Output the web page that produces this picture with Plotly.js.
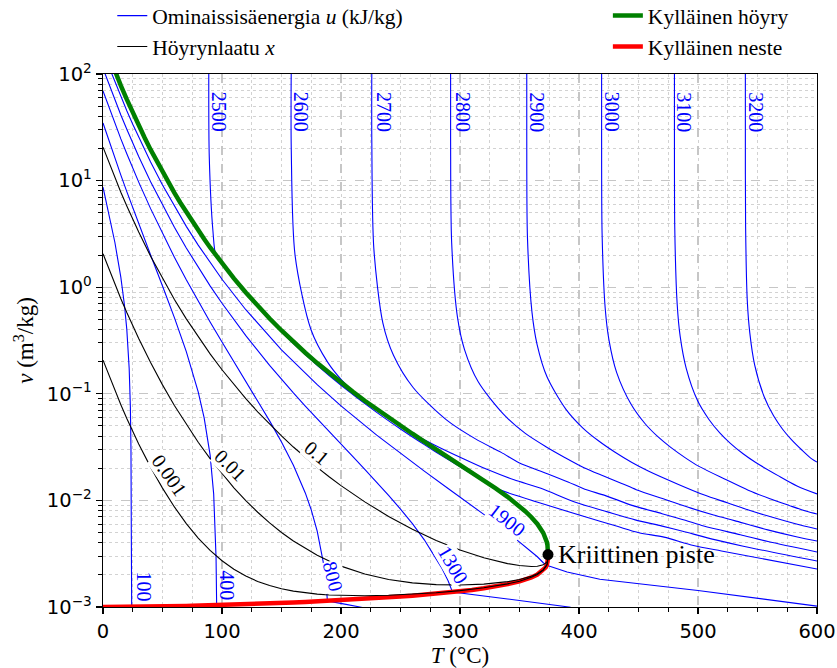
<!DOCTYPE html>
<html><head><meta charset="utf-8">
<script src="https://cdn.plot.ly/plotly-3.0.1.min.js"></script>
<style>body{margin:0;padding:0;background:#fff}</style>
</head><body><div id="chart" style="width:837px;height:668px"></div>
<script>
// ---- saturation curve (T in °C, v in m3/kg) ----
const T_sat = [0.01,5,10,15,20,25,30,35,40,45,50,55,60,65,70,75,80,85,90,95,100,110,120,130,140,150,160,170,180,190,200,210,220,230,240,250,260,270,280,290,300,310,320,330,340,350,355,360,365,370,372,373,373.5,373.8,373.9,373.946];
const v_vapour = [205.99,147.03,106.32,77.885,57.762,43.340,32.879,25.205,19.515,15.251,12.026,9.5639,7.6670,6.1935,5.0396,4.1291,3.4053,2.8261,2.3593,1.9808,1.6720,1.2094,0.89133,0.66808,0.50850,0.39248,0.30680,0.24283,0.19405,0.15654,0.12721,0.10441,0.08609,0.07150,0.05970,0.05009,0.04219,0.03565,0.03017,0.02556,0.02166,0.01834,0.01548,0.01298,0.01079,0.008806,0.00788,0.006950,0.006009,0.004954,0.00441,0.004055,0.0038,0.00356,0.0034,0.003106];
const v_liquid = [0.001000,0.001000,0.001000,0.001001,0.001002,0.001003,0.001004,0.001006,0.001008,0.001010,0.001012,0.001015,0.001017,0.001020,0.001023,0.001026,0.001029,0.001032,0.001036,0.001040,0.001043,0.001052,0.001060,0.001070,0.001080,0.001091,0.001102,0.001114,0.001127,0.001141,0.001157,0.001173,0.001190,0.001209,0.001229,0.001252,0.001276,0.001303,0.001332,0.001366,0.001404,0.001447,0.001499,0.001561,0.001638,0.001740,0.001809,0.001895,0.002016,0.002213,0.002353,0.002477,0.00259,0.00273,0.002836,0.003106];
const critical = {T: 373.946, v: 0.003106};

// ---- quality lines ----
const T_q = [0.01,5,10,15,20,25,30,40,50,60,70,80,90,100,110,120,130,140,150,160,170,180,190,200,220,240,260,280,300,320,340,350,360,365,370,372,373,373.5,373.8,373.946];
const v_x0001 = [0.20699,0.14803,0.10732,0.078885,0.058763,0.044342,0.033882,0.020522,0.013037,0.008683,0.006061,0.004434,0.003394,0.002714,0.002260,0.001950,0.001737,0.001588,0.001482,0.001408,0.001356,0.001320,0.001297,0.001283,0.001275,0.001288,0.001317,0.001361,0.001424,0.001513,0.001647,0.001747,0.001900,0.002020,0.002216,0.002355,0.002478,0.002591,0.002731,0.003106];
const v_x001 = [2.0609,1.4713,1.0642,0.77984,0.57861,0.43439,0.32978,0.19615,0.12126,0.077677,0.051409,0.035072,0.024619,0.017753,0.013135,0.009963,0.007740,0.006154,0.005005,0.004159,0.003531,0.003056,0.002695,0.002418,0.002039,0.001814,0.001685,0.001620,0.001607,0.001639,0.001729,0.001811,0.001945,0.002056,0.002240,0.002374,0.002493,0.002602,0.002738,0.003106];
const v_x01 = [20.600,14.704,10.633,7.7894,5.7771,4.3349,3.2888,1.9524,1.2035,0.76761,0.50488,0.34146,0.23686,0.16814,0.12189,0.090088,0.067771,0.051822,0.040230,0.031672,0.025286,0.020419,0.016681,0.013762,0.009680,0.007076,0.005367,0.004216,0.003430,0.002897,0.002553,0.002447,0.002401,0.002415,0.002487,0.002559,0.002635,0.002711,0.002813,0.003106];
const qualityLevels = ['0.001','0.01','0.1'];

// ---- internal energy isolines (kJ/kg) ----
const T_u100 = [0.01,5,10,15,18,20,22,23,23.5,23.8,23.85,24.1];
const v_u100 = [8.673,4.919,2.6269,1.2372,0.685,0.4019,0.1728,0.0755,0.0307,0.00482,0.001003,0.000995];
const T_u400 = [0.01,5,10,15,20,25,30,40,50,60,70,80,85,90,93,95,95.5,96.5];
const v_u400 = [34.69,23.60,16.22,11.254,7.875,5.552,3.938,2.0057,1.0267,0.5185,0.2487,0.1042,0.0594,0.0267,0.01152,0.00292,0.00104,0.000995];
const T_u800 = [0.01,5,10,15,20,25,30,40,50,60,70,80,90,100,110,120,130,140,150,160,170,175,180,185,188,188.6,202,216,218];
const v_u800 = [69.39,48.51,34.34,24.61,17.84,13.075,9.680,5.457,3.181,1.9087,1.1742,0.7380,0.4723,0.3061,0.2001,0.1314,0.08603,0.05574,0.03527,0.02132,0.01175,0.00815,0.00515,0.002662,0.001377,0.00114,0.00107,0.001,0.00099];
const T_u1300 = [0.01,5,10,15,20,25,30,40,50,60,70,80,90,100,120,140,150,160,170,180,190,200,210,220,230,240,250,260,270,280,285,290,293.7,340,390,393];
const v_u1300 = [112.8,79.65,56.99,41.31,30.30,22.48,16.86,9.771,5.873,3.648,2.333,1.5315,1.0293,0.70639,0.3511,0.1851,0.1368,0.1021,0.07681,0.05811,0.04416,0.03366,0.02572,0.01955,0.01483,0.01116,0.00829,0.00605,0.00427,0.00287,0.00229,0.00176,0.00138,0.00119,0.001,0.000995];
const T_u1900 = [5,10,15,20,25,30,40,50,60,70,80,90,100,120,150,180,200,230,250,270,290,300,320,340,350,360,365,370,372,372.9,390,417.5,500,600];
const v_u1900 = [117.0,84.18,61.34,45.25,33.76,25.47,14.95,9.104,5.734,3.7222,2.4828,1.6976,1.1872,0.6147,0.2586,0.1217,0.07703,0.04093,0.02755,0.01882,0.01294,0.01075,0.00739,0.00502,0.00409,0.00331,0.00296,0.00260,0.00249,0.00246,0.00213,0.00182,0.00143,0.00102];
const T_u2500 = [88.9,89.3,92.4,94.9,100,120,150,180,200,230,250,270,290,300,310,320,329.7,347.5,410,432.1,450.4,471.4,496.2,519.7,600];
const v_u2500 = [120,16.70,3.346,1.98,1.667,0.8787,0.3805,0.1852,0.1204,0.0670,0.04681,0.03336,0.02412,0.02063,0.01768,0.01515,0.01305,0.01111,0.00676,0.00571,0.00498,0.00452,0.00378,0.00335,0.00227];
const T_u2600 = [158.2,158.2,161.4,174.8,188.6,201,212.7,230,245,257,278.9,302.8,322.6,345.4,368,397,423.9,447.2,469.9,487.1,514.9,538.1,600];
const v_u2600 = [120,19.89,1.990,0.3987,0.1994,0.1329,0.0997,0.0714,0.0547,0.0443,0.03296,0.02459,0.01955,0.01559,0.01299,0.0096,0.007805,0.00657,0.00574,0.00513,0.00426,0.00372,0.00270];
const T_u2700 = [225.9,225.9,227.6,235.2,244.1,260.6,288.6,313,334.6,350,372.8,390.8,404.9,421.7,445.3,469.8,489.3,504.8,535.6,558.8,600];
const v_u2700 = [120,23.02,2.3015,0.4598,0.2296,0.1145,0.05692,0.03776,0.02821,0.02244,0.01792,0.0149,0.01273,0.01115,0.00893,0.00751,0.00651,0.00575,0.00476,0.00411,0.00328];
const T_u2800 = [292.1,292.1,293,297.9,303.8,315.3,336.5,354.6,372.2,387.6,404.2,421.2,435.9,448.1,473.7,494.1,513.1,530.6,558.6,583.5,600];
const v_u2800 = [120,26.08,2.6066,0.5206,0.2599,0.12953,0.06441,0.04273,0.03191,0.02545,0.02028,0.01686,0.01443,0.01261,0.01010,0.00846,0.0073,0.00646,0.00529,0.00454,0.00416];
const T_u2900 = [356.1,356.1,356.7,360.5,364.8,373.1,388.9,403.3,417.2,430,444.5,458.2,483.6,504.8,525.2,542.4,558.2,586.7,600];
const v_u2900 = [120,29.03,2.9019,0.58,0.28963,0.14444,0.07188,0.04773,0.03566,0.02845,0.02268,0.01886,0.01411,0.01128,0.00944,0.00813,0.00717,0.00584,0.00539];
const T_u3000 = [419,419,419.4,422,425.2,431.6,443.9,455.4,466.5,477.1,489.4,500.8,523.8,542.2,559.9,576.5,591.2,600];
const v_u3000 = [120,31.94,3.1925,0.6379,0.3186,0.15895,0.07923,0.05266,0.03937,0.03142,0.02507,0.02086,0.0156,0.01246,0.01042,0.00897,0.0079,0.00745];
const T_u3100 = [480.2,480.2,480.5,482.5,485,490.1,499.6,509.2,518.3,527.2,537.9,548.2,567.3,583.2,600];
const v_u3100 = [120,34.76,3.475,0.6946,0.347,0.17326,0.0864,0.05746,0.043,0.03433,0.0274,0.0228,0.01708,0.01366,0.0115];
const T_u3200 = [539.8,539.8,540,541.4,543.5,547.6,555.7,563.5,571.1,578.5,587.3,595.6,600];
const v_u3200 = [120,37.52,3.7505,0.7495,0.37455,0.18707,0.09336,0.06213,0.04654,0.03718,0.0297,0.0245,0.0229];
const uLevels = [100,400,800,1300,1900,2500,2600,2700,2800,2900,3000,3100,3200];

// ---- axis ticks ----
const xTickVals = [0,100,200,300,400,500,600];
const yTickVals = [0.001,0.01,0.1,1,10,100];
const yTickText = ['10<sup>−3</sup>','10<sup>−2</sup>','10<sup>−1</sup>','10<sup>0</sup>','10<sup>1</sup>','10<sup>2</sup>'];
const yMinorVals = [];
[0.001,0.01,0.1,1,10].forEach(d => { for (let k = 2; k <= 9; k++) yMinorVals.push(+(d*k).toPrecision(3)); });

const isoT = {100:T_u100,400:T_u400,800:T_u800,1300:T_u1300,1900:T_u1900,2500:T_u2500,2600:T_u2600,2700:T_u2700,2800:T_u2800,2900:T_u2900,3000:T_u3000,3100:T_u3100,3200:T_u3200};
const isoV = {100:v_u100,400:v_u400,800:v_u800,1300:v_u1300,1900:v_u1900,2500:v_u2500,2600:v_u2600,2700:v_u2700,2800:v_u2800,2900:v_u2900,3000:v_u3000,3100:v_u3100,3200:v_u3200};

const serif = 'Liberation Serif, Times New Roman, serif';
const traces = [];
uLevels.forEach((u, i) => {
  traces.push({x: isoT[u], y: isoV[u], mode: 'lines', type: 'scatter',
    line: {color: '#0000ff', width: 1.1, shape: u >= 2500 ? 'spline' : 'linear', smoothing: 0.8},
    name: 'Ominaissisäenergia <i>u</i> (kJ/kg)', legendgroup: 'u', showlegend: i === 0,
    legend: 'legend', hoverinfo: 'skip'});
});
traces.push({x: T_sat, y: v_vapour, mode: 'lines', type: 'scatter', line: {color: '#008000', width: 4.5},
  name: 'Kylläinen höyry', legend: 'legend2', hoverinfo: 'skip'});
traces.push({x: T_sat, y: v_liquid, mode: 'lines', type: 'scatter', line: {color: '#ff0000', width: 4.5},
  name: 'Kylläinen neste', legend: 'legend2', hoverinfo: 'skip'});
[v_x0001, v_x001, v_x01].forEach((arr, i) => {
  traces.push({x: T_q, y: arr, mode: 'lines', type: 'scatter', line: {color: '#000000', width: 1.1},
    name: 'Höyrynlaatu <i>x</i>', legendgroup: 'x', showlegend: i === 0, legend: 'legend', hoverinfo: 'skip'});
});
traces.push({x: [critical.T], y: [critical.v], mode: 'markers', type: 'scatter',
  marker: {color: '#000', size: 11}, showlegend: false, hoverinfo: 'skip'});

// label placement (T, log10 v, angle)
const uLabelPos = {
  2500: [97.6, 1.6435, 90], 2600: [166.5, 1.6435, 90], 2700: [236.2, 1.6435, 90], 2800: [302.5, 1.6435, 90],
  2900: [364.6, 1.6435, 90], 3000: [428.0, 1.6435, 90], 3100: [488.0, 1.6435, 90], 3200: [548.5, 1.6435, 90],
  100: [34.7, -2.810, 90], 400: [104.1, -2.794, 90], 800: [193.6, -2.716, 76],
  1300: [294.4, -2.606, 60], 1900: [339.9, -2.184, 38]
};
const qLabelPos = {'0.001': [55.7, -1.762, 55], '0.01': [106.9, -1.668, 45], '0.1': [179.7, -1.558, 40]};
const annotations = [];
uLevels.forEach(u => {
  const p = uLabelPos[u];
  annotations.push({x: p[0], y: p[1], xref: 'x', yref: 'y', text: String(u), showarrow: false,
    textangle: p[2], font: {family: serif, size: 20, color: '#0000ff'},
    bgcolor: p[2] === 90 ? 'rgba(0,0,0,0)' : '#ffffff', borderpad: 0, xanchor: 'center', yanchor: 'middle'});
});
qualityLevels.forEach(q => {
  const p = qLabelPos[q];
  annotations.push({x: p[0], y: p[1], xref: 'x', yref: 'y', text: q, showarrow: false,
    textangle: p[2], font: {family: serif, size: 20, color: '#000'}, bgcolor: '#ffffff', borderpad: 0,
    xanchor: 'center', yanchor: 'middle'});
});
annotations.push({x: 381.0, y: -2.507, xref: 'x', yref: 'y', text: 'Kriittinen piste', showarrow: false,
  xanchor: 'left', yanchor: 'middle', font: {family: serif, size: 26, color: '#000'}});

const gridMajor = '#c6c6c6', gridMinor = '#d2d2d2';
const legendFont = {family: serif, size: 21.5, color: '#000'};
const layout = {
  width: 837, height: 668, autosize: false,
  margin: {l: 103, r: 20, t: 74, b: 61, autoexpand: false},
  paper_bgcolor: '#fff', plot_bgcolor: '#fff',
  font: {family: serif, color: '#000'},
  showlegend: true,
  legend: {x: 0.013, y: 1.148, xanchor: 'left', yanchor: 'top', orientation: 'v', bgcolor: 'rgba(0,0,0,0)',
    font: legendFont, tracegroupgap: 0, itemwidth: 30},
  legend2: {x: 0.7071, y: 1.148, xanchor: 'left', yanchor: 'top', orientation: 'v', bgcolor: 'rgba(0,0,0,0)',
    font: legendFont, tracegroupgap: 0, itemwidth: 30},
  xaxis: {range: [0, 600], tickmode: 'array', tickvals: xTickVals, ticks: 'outside', ticklen: 6, tickwidth: 1.2,
    tickcolor: '#000', showline: true, linecolor: '#000', linewidth: 1.3, mirror: true, zeroline: false,
    showgrid: true, gridcolor: gridMajor, griddash: 'dash', gridwidth: 1.2,
    tickfont: {family: 'DejaVu Sans', size: 19.5, color: '#000'},
    minor: {dtick: 25, tick0: 0, ticks: 'outside', ticklen: 3.5, tickwidth: 1, tickcolor: '#000', showgrid: true, gridcolor: gridMinor, griddash: 'dot', gridwidth: 1},
    title: {text: '<i>T</i> (°C)', font: {family: serif, size: 23, color: '#000'}, standoff: 3}},
  yaxis: {type: 'log', range: [-3, 2], tickmode: 'array', tickvals: yTickVals, ticktext: yTickText,
    ticks: 'outside', ticklen: 6, tickwidth: 1.2, tickcolor: '#000', showline: true, linecolor: '#000', linewidth: 1.3,
    mirror: true, zeroline: false, showgrid: true, gridcolor: gridMajor, griddash: 'dash', gridwidth: 1.2,
    tickfont: {family: 'DejaVu Sans', size: 19.5, color: '#000'},
    minor: {tickmode: 'array', tickvals: yMinorVals, ticks: 'outside', ticklen: 3.5, tickwidth: 1, tickcolor: '#000', showgrid: true, gridcolor: gridMinor, griddash: 'dot', gridwidth: 1},
    title: {text: '<i>v</i> (m<sup>3</sup>/kg)', font: {family: serif, size: 23, color: '#000'}, standoff: 6}},
  annotations: annotations
};
Plotly.newPlot('chart', traces, layout, {staticPlot: true, displayModeBar: false});
</script></body></html>
